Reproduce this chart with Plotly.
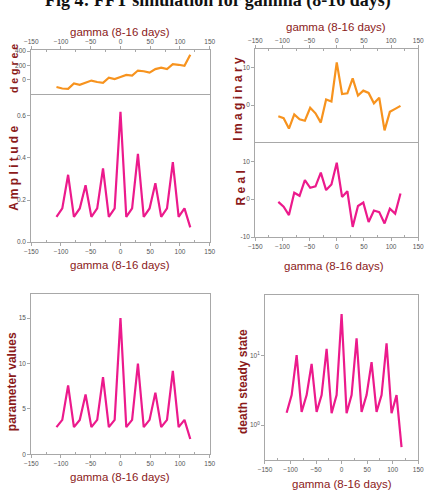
import plotly.graph_objects as go

W, H = 431, 493

gamma = [round(k * 9.78, 2) for k in range(-11, 13)]
degree = [-100, -120, -125, -50, -70, -40, -10, -30, -40, 30, 10, 40,
          70, 60, 130, 120, 100, 150, 170, 150, 220, 210, 195, 350]
amplitude = [0.12, 0.16, 0.32, 0.12, 0.16, 0.27, 0.12, 0.16, 0.35, 0.12, 0.16, 0.62,
             0.12, 0.16, 0.42, 0.12, 0.16, 0.28, 0.12, 0.16, 0.38, 0.12, 0.16, 0.07]
imaginary = [-3, -3.5, -6.3, -2.5, -3.8, -4.2, -0.7, -2.2, -4.7, 1.5, 1, 11.5,
             3, 3.2, 7.2, 2.6, 3.9, 3.3, 0.5, 2, -6.8, -1.8, -1, -0.2]
real = [-0.7, -2, -4.2, 1.7, 0.9, 5, 3, 3.4, 7, 2.4, 3.9, 9.6,
        0.6, 2.1, -7.3, -1.8, -0.9, -6, -3, -3.4, -6.4, -2.5, -3.8, 1.5]
params = [3, 3.8, 7.6, 3, 3.8, 6.6, 3, 3.8, 8.5, 3, 3.8, 15,
          3, 3.8, 10, 3, 3.8, 6.8, 3, 3.8, 9.2, 3, 3.8, 1.7]
death = [1.5, 2.7, 10.2, 1.55, 2.7, 7.6, 1.55, 2.7, 12.6, 1.48, 2.7, 40,
         1.48, 2.7, 17.8, 1.55, 2.7, 8.1, 1.55, 2.7, 15.1, 1.48, 2.7, 0.48]

x_ticks = [-150, -100, -50, 0, 50, 100, 150]
ORANGE = "#f7931e"
PINK = "#ec1a8c"
RED = "#8b1a1a"
GREY = "#a8a8a8"
TICKFONT = dict(family="Liberation Sans Narrow, Arial Narrow, sans-serif", size=6.5, color="#555")
LABFONT = dict(family="Liberation Sans Narrow, Arial Narrow, Liberation Sans, sans-serif", size=11.5, color=RED)
YFONT = dict(family="Liberation Sans, Arial, sans-serif", size=12, color=RED)


def xd(a, b):
    return [a / W, b / W]


def yd(top, bot):
    return [1 - bot / H, 1 - top / H]


# (key, xpx, ypx, xside, mirror, yrange, ytickvals, yticktext, ytype, y, color)
panels = [
    ("1", (25, 209), (48, 92), "top", True, [-195, 410], [0, 200, 400], ["0", "200", "400"], "linear", degree, ORANGE),
    ("2", (25, 209), (92, 242), "bottom", False, [0, 0.705], [0, 0.2, 0.4, 0.6], ["0.0", "0.2", "0.4", "0.6"], "linear", amplitude, PINK),
    ("3", (256, 424), (47, 141), "top", True, [-10, 15], [0, 10], ["0", "10"], "linear", imaginary, ORANGE),
    ("4", (256, 424), (141, 237), "bottom", False, [-10, 15], [-10, 0, 10], ["-10", "0", "10"], "linear", real, PINK),
    ("5", (25, 209), (295, 457), "bottom", True, [0, 17.6], [0, 5, 10, 15], ["0", "5", "10", "15"], "linear", params, PINK),
    ("6", (266, 424), (296, 463), "bottom", True, [-0.51, 1.87], [1, 10], ["10<sup>0</sup>", "10<sup>1</sup>"], "log", death, PINK),
]

fig = go.Figure()
layout = {}
for key, xp, yp, side, mir, yr, ytv, ytt, ytype, yv, col in panels:
    xa = "xaxis" + ("" if key == "1" else key)
    ya = "yaxis" + ("" if key == "1" else key)
    xref = "x" + ("" if key == "1" else key)
    yref = "y" + ("" if key == "1" else key)
    fig.add_trace(go.Scatter(x=gamma, y=yv, mode="lines", line=dict(color=col, width=2.2),
                             xaxis=xref, yaxis=yref, showlegend=False))
    layout[xa] = dict(domain=xd(*xp), range=[-150, 150], anchor=yref, side=side,
                      tickvals=x_ticks, tickfont=TICKFONT,
                      ticks="outside", ticklen=3, tickcolor=GREY, showgrid=False, zeroline=False,
                      showline=True, linecolor=GREY, linewidth=1, mirror=mir,
                      minor=dict(tickvals=[-125, -75, -25, 25, 75, 125], ticks="inside", ticklen=2, tickcolor=GREY))
    layout[ya] = dict(domain=yd(*yp), range=yr, anchor=xref, type=ytype,
                      tickvals=ytv, ticktext=ytt, tickfont=TICKFONT,
                      ticks="outside", ticklen=3, tickcolor=GREY, showgrid=False, zeroline=False,
                      showline=True, linecolor=GREY, linewidth=1, mirror=True)

annotations = []


def ann(text, x, y, font, angle=0):
    annotations.append(dict(text=text, x=x / W, y=1 - y / H, xref="paper", yref="paper",
                            showarrow=False, font=font, textangle=angle,
                            xanchor="center", yanchor="middle"))


ann("gamma (8-16 days)", 117, 29, LABFONT)
ann("gamma (8-16 days)", 339, 24, LABFONT)
ann("gamma (8-16 days)", 117, 265, LABFONT)
ann("gamma (8-16 days)", 337, 266, LABFONT)
ann("gamma (8-16 days)", 117, 480, LABFONT)
ann("gamma (8-16 days)", 345, 487, LABFONT)
ann("<b>d e g r e e</b>", 7, 66, dict(family="Liberation Sans, Arial, sans-serif", size=10.5, color=RED), -90)
ann("<b>A m p l i t u d e</b>", 7, 167, YFONT, -90)
ann("<b>I m a g i n a r y</b>", 238, 97, YFONT, -90)
ann("<b>R e a l</b>", 241, 187, YFONT, -90)
ann("<b>parameter values</b>", 6, 383, dict(family="Liberation Sans, Arial, sans-serif", size=12, color=RED), -90)
ann("<b>death steady state</b>", 244, 383, dict(family="Liberation Sans, Arial, sans-serif", size=12, color=RED), -90)

annotations.append(dict(text="<b>Fig 4: FFT simulation for gamma (8-16 days)</b>", x=218 / W, y=1 - 10 / H,
                        xref="paper", yref="paper", showarrow=False, xanchor="center", yanchor="bottom",
                        font=dict(family="Liberation Serif, Times New Roman, serif", size=18, color="#111")))

fig.update_layout(**layout)
fig.update_layout(width=W, height=H, margin=dict(l=0, r=0, t=0, b=0),
                  paper_bgcolor="white", plot_bgcolor="white", annotations=annotations)

fig.write_html("out.html")
